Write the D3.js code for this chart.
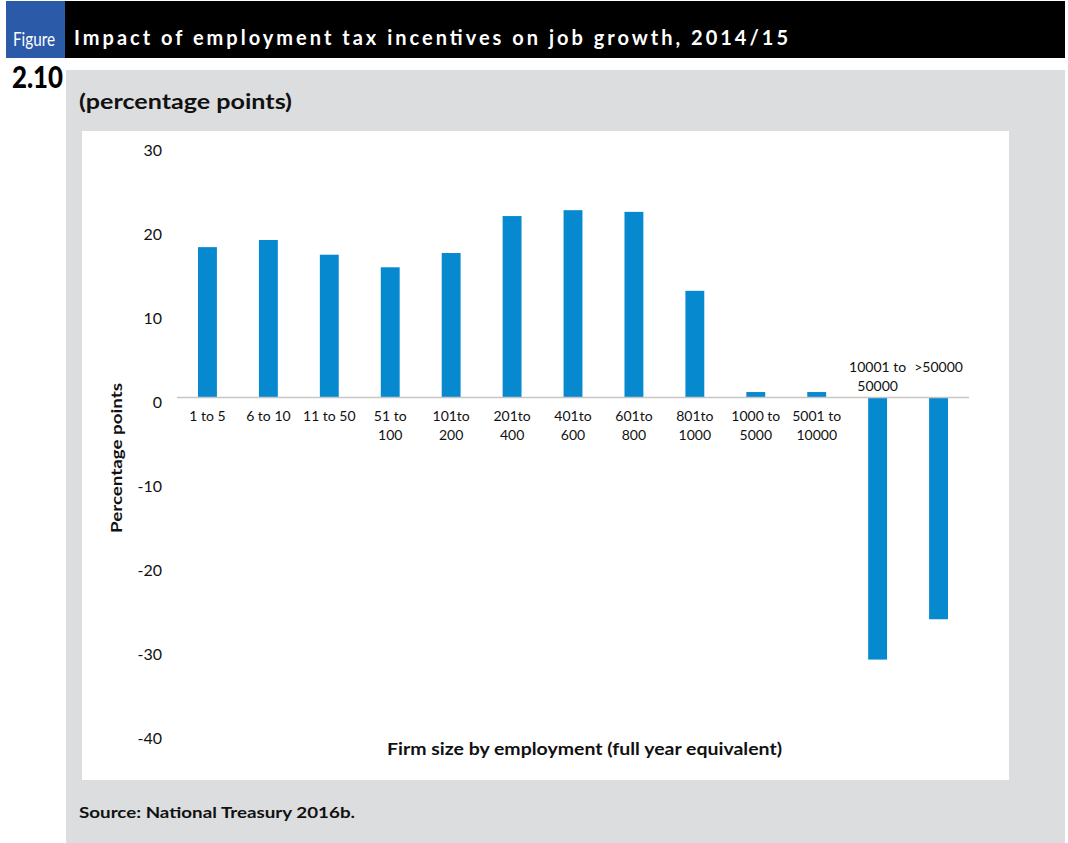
<!DOCTYPE html>
<html>
<head>
<meta charset="utf-8">
<script src="https://cdn.jsdelivr.net/npm/d3@7"></script>
<style>
  body { margin: 0; background: #fff; }
  svg { display: block; font-family: Lato, "Open Sans", sans-serif; }
</style>
</head>
<body>
<div id="chart-area"></div>
<script>
// categories (line breaks as in the original labels)
var categories = ["1 to 5", "6 to 10", "11 to 50", "51 to\n100", "101to\n200", "201to\n400",
    "401to\n600", "601to\n800", "801to\n1000", "1000 to\n5000", "5001 to\n10000",
    "10001 to\n50000", ">50000"];
// impact on job growth, percentage points
var values = [17.9, 18.75, 17.0, 15.5, 17.2, 21.6, 22.3, 22.1, 12.7, 0.65, 0.65, -31.2, -26.4];
var yTicks = [30, 20, 10, 0, -10, -20, -30, -40];

var W = 1068, H = 843;
var svg = d3.select("#chart-area").append("svg")
    .attr("width", W)
    .attr("height", H);

// header bar
svg.append("rect").attr("x", 0).attr("y", 0).attr("width", W).attr("height", H).attr("fill", "#fff");
svg.append("rect").attr("x", 6).attr("y", 1).attr("width", 1059).attr("height", 57).attr("fill", "#000");
svg.append("rect").attr("x", 6).attr("y", 1).attr("width", 59).attr("height", 57).attr("fill", "#2a5aa8");

svg.append("text")
    .attr("x", 13).attr("y", 46)
    .attr("fill", "#fff")
    .attr("font-size", "19px")
    .attr("textLength", 42)
    .attr("lengthAdjust", "spacingAndGlyphs")
    .text("Figure");

svg.append("text")
    .attr("x", 74).attr("y", 45)
    .attr("fill", "#fff")
    .attr("font-size", "20px")
    .attr("font-weight", "bold")
    .attr("textLength", 714)
    .attr("lengthAdjust", "spacing")
    .text("Impact of employment tax incentives on job growth, 2014/15");

svg.append("text")
    .attr("x", 12).attr("y", 88)
    .attr("fill", "#000")
    .attr("font-size", "31px")
    .attr("font-weight", "900")
    .attr("textLength", 51)
    .attr("lengthAdjust", "spacingAndGlyphs")
    .text("2.10");

// grey panel and white plot area
svg.append("rect").attr("x", 66).attr("y", 70).attr("width", 999).attr("height", 773).attr("fill", "#dcdddf");
svg.append("rect").attr("x", 82).attr("y", 131).attr("width", 927).attr("height", 649).attr("fill", "#fff");

svg.append("text")
    .attr("x", 79).attr("y", 109)
    .attr("font-size", "21px")
    .attr("font-weight", "bold")
    .attr("fill", "#111")
    .attr("textLength", 213)
    .attr("lengthAdjust", "spacingAndGlyphs")
    .text("(percentage points)");

// scales
var x = d3.scaleBand()
    .domain(categories)
    .range([177, 969])
    .paddingInner(0.69)
    .paddingOuter(0.345);

var y = d3.scaleLinear()
    .domain([-40, 30])
    .range([733.5, 145.5]);

// y axis (labels only), plain hyphen for negatives as in the original
var yAxis = svg.append("g")
    .attr("transform", "translate(177,0)")
    .call(d3.axisLeft(y).tickValues(yTicks).tickSize(0).tickPadding(15).tickFormat(d => String(d)));
yAxis.select(".domain").remove();
yAxis.selectAll("text")
    .attr("font-family", "Lato, sans-serif")
    .attr("font-size", "16px")
    .attr("fill", "#111")
    .attr("dy", "0.65em");

// bars
svg.selectAll("rect.bar")
    .data(values)
    .enter()
    .append("rect")
    .attr("class", "bar")
    .attr("x", (d, i) => x(categories[i]))
    .attr("y", d => y(Math.max(0, d)))
    .attr("width", x.bandwidth())
    .attr("height", d => Math.abs(y(d) - y(0)))
    .attr("fill", "#0789d0");

// zero line
svg.append("line")
    .attr("x1", 177).attr("x2", 969)
    .attr("y1", y(0)).attr("y2", y(0))
    .attr("stroke", "#c6c6c6")
    .attr("stroke-width", 1.5);

// category labels: below the axis, above it for negative bars
var labels = svg.selectAll("text.cat")
    .data(categories)
    .enter()
    .append("text")
    .attr("class", "cat")
    .attr("text-anchor", "middle")
    .attr("font-size", "14px")
    .attr("fill", "#111")
    .attr("transform", (d, i) => "translate(" + (x(d) + x.bandwidth() / 2) + "," +
        (values[i] < 0 ? y(0) - 25.5 : y(0) + 23.5) + ")");

labels.selectAll("tspan")
    .data(d => d.split("\n"))
    .enter()
    .append("tspan")
    .attr("x", 0)
    .attr("y", (d, j) => j * 18.5)
    .text(d => d);

// axis titles
svg.append("text")
    .attr("transform", "translate(122,458) rotate(-90)")
    .attr("text-anchor", "middle")
    .attr("font-size", "16px")
    .attr("font-weight", "bold")
    .attr("fill", "#111")
    .attr("textLength", 150)
    .attr("lengthAdjust", "spacingAndGlyphs")
    .text("Percentage points");

svg.append("text")
    .attr("x", 387).attr("y", 755)
    .attr("font-size", "17px")
    .attr("font-weight", "bold")
    .attr("fill", "#111")
    .attr("textLength", 395)
    .attr("lengthAdjust", "spacingAndGlyphs")
    .text("Firm size by employment (full year equivalent)");

// source
svg.append("text")
    .attr("x", 79).attr("y", 818)
    .attr("font-size", "16px")
    .attr("font-weight", "bold")
    .attr("fill", "#111")
    .attr("textLength", 276)
    .attr("lengthAdjust", "spacingAndGlyphs")
    .text("Source: National Treasury 2016b.");
</script>
</body>
</html>
